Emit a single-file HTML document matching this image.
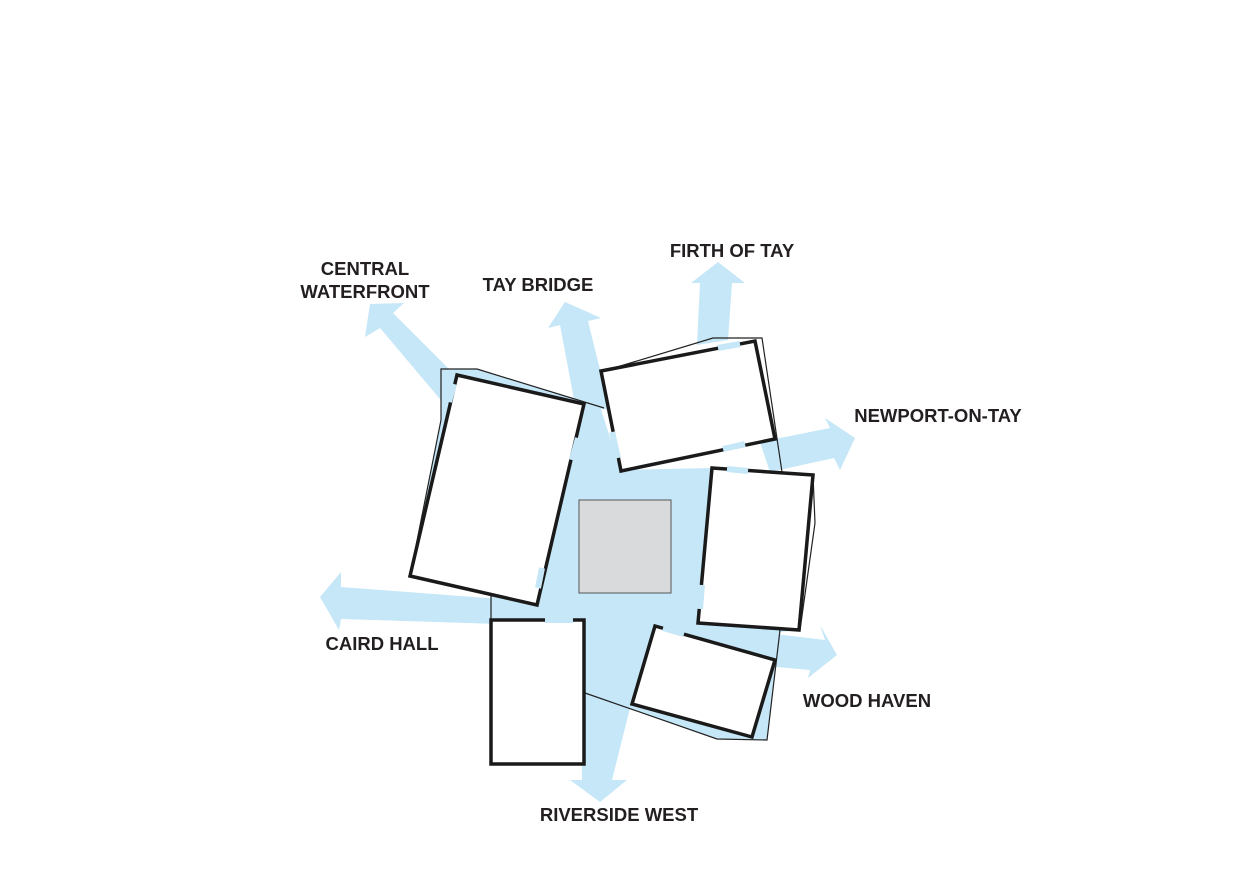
<!DOCTYPE html>
<html><head><meta charset="utf-8"><style>
html,body{margin:0;padding:0;background:#fff;}
svg{display:block;}
text{font-family:"Liberation Sans",sans-serif;font-weight:bold;font-size:18.5px;fill:#231f20;}
</style></head><body>
<svg width="1250" height="883" viewBox="0 0 1250 883" xmlns="http://www.w3.org/2000/svg">
<rect width="1250" height="883" fill="#fff"/>
<g fill="#c5e7f7">
<polygon points="445,405 380,328 365,337 370,304 404,303 393,313 470,390"/>
<polygon points="575,405 560,325 548,328 565,302 601,318 588,321 610,410"/>
<polygon points="697,345 700,283 691,283 718,262 745,283 732,283 728,340"/>
<polygon points="760,442 830,428 825,418 855,438 840,470 834,458 770,472"/>
<polygon points="500,599 341,587 341,572 320,597 339,630 341,619 560,626"/>
<polygon points="700,625 825,640 820,625 837,655 808,678 810,670 700,660"/>
<polygon points="580,650 582,780 570,780 600,802 627,780 612,780 632,700"/>
<polygon points="441,370 477,369 600,406 620,470 712,468 782,472 799,630 780,632 767,740 717,739 585,693 584,620 491,620 491,595 410,576 441,420"/>
</g>
<rect x="579" y="500" width="92" height="93" fill="#d9dadc" stroke="#555" stroke-width="1"/>
<g fill="none" stroke="#222" stroke-width="1.2">
<polyline points="410,576 441,420 441,369 477,369 604,408"/>
<polyline points="604,371 713,338 762,338 782,472"/>
<polyline points="813,475 815,523 800,630"/>
<polyline points="780,630 767,740 717,739 585,693"/>
<line x1="491" y1="595" x2="491" y2="620"/>
</g>
<g fill="#fff" stroke="#1a1a1a" stroke-width="3.5" stroke-linejoin="miter">
<polygon points="457,375 584,404 537,605 410,576"/>
<polygon points="601,371 755,341 775,439 621,471"/>
<polygon points="712,468 813,475 799,630 698,623"/>
<polygon points="655,626 775,660 752,737 632,704"/>
<rect x="491" y="620" width="93" height="144"/>
</g>
<g stroke="#c5e7f7" stroke-width="6" stroke-linecap="butt">
<line x1="454" y1="384" x2="449" y2="402"/>
<line x1="578" y1="438" x2="572" y2="460"/>
<line x1="542" y1="568" x2="538" y2="588"/>
<line x1="718" y1="348" x2="740" y2="344"/>
<line x1="612" y1="432" x2="618" y2="458"/>
<line x1="723" y1="449" x2="745" y2="444"/>
<line x1="727" y1="469" x2="748" y2="471"/>
<line x1="702" y1="585" x2="700" y2="609"/>
<line x1="663" y1="628" x2="684" y2="634"/>
<line x1="545" y1="620" x2="573" y2="620"/>
</g>
<text x="365" y="275" text-anchor="middle">CENTRAL</text>
<text x="365" y="298" text-anchor="middle">WATERFRONT</text>
<text x="538" y="291" text-anchor="middle">TAY BRIDGE</text>
<text x="732" y="257" text-anchor="middle">FIRTH OF TAY</text>
<text x="938" y="422" text-anchor="middle">NEWPORT-ON-TAY</text>
<text x="382" y="650" text-anchor="middle">CAIRD HALL</text>
<text x="867" y="707" text-anchor="middle">WOOD HAVEN</text>
<text x="619" y="821" text-anchor="middle">RIVERSIDE WEST</text>
</svg>
</body></html>
